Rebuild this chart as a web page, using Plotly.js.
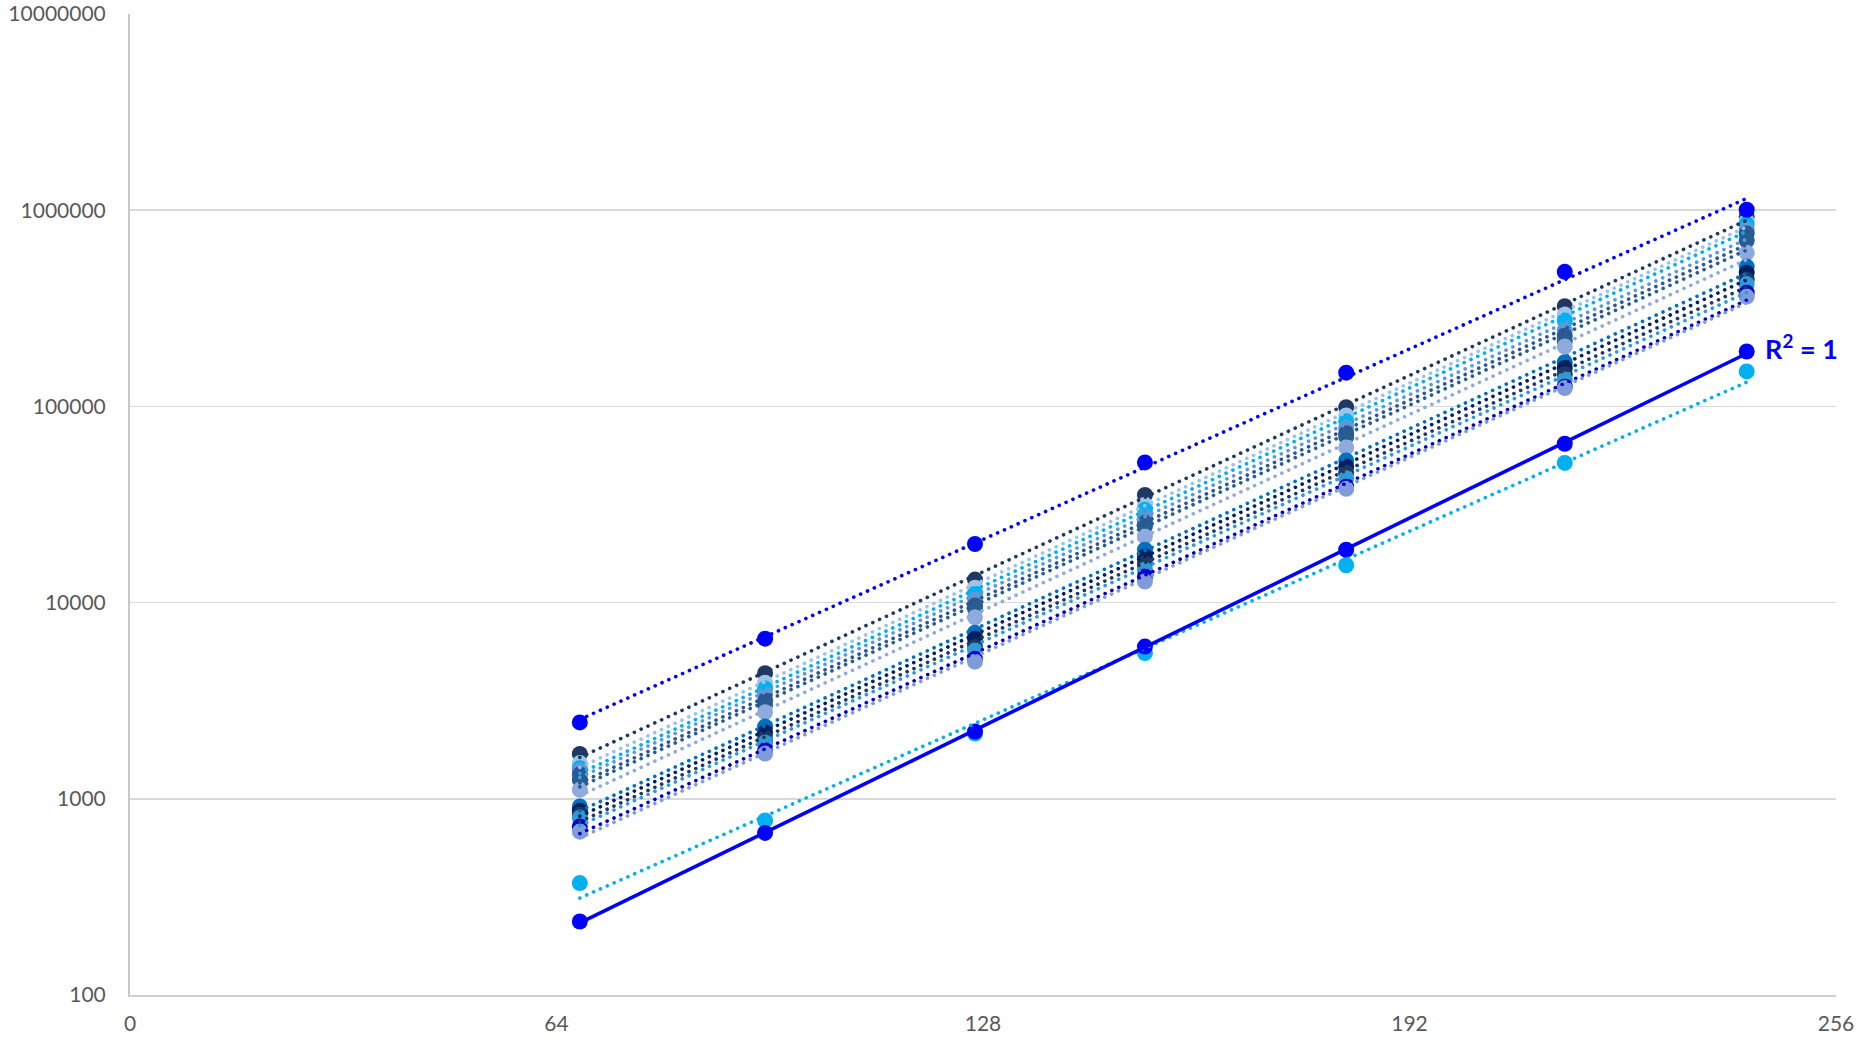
<!DOCTYPE html>
<html>
<head>
<meta charset="utf-8">
<script src="https://cdn.plot.ly/plotly-3.0.1.min.js"></script>
<style>
  html, body { margin: 0; padding: 0; background: #ffffff; }
  #chart { width: 1860px; height: 1037px; }
</style>
</head>
<body>
<div id="chart"></div>
<script>
// ---- data ----
const xValues = [67.5, 95.3, 126.8, 152.3, 182.5, 215.3, 242.6];

const yTickVals = [100, 1000, 10000, 100000, 1000000, 10000000];
const yTickText = ["100", "1000", "10000", "100000", "1000000", "10000000"];
const xTickVals = [0, 64, 128, 192, 256];
const xTickText = ["0", "64", "128", "192", "256"];

// upper cluster
const seriesU1 = [1694, 4365, 13100, 35400, 99100, 324000, 930000];
const seriesU2 = [1520, 3906, 11900, 31500, 89900, 294000, 880000];
const seriesU3 = [1433, 3645, 11100, 29700, 83900, 274000, 850000];
const seriesU4 = [1394, 3400, 10400, 27500, 78200, 245000, 800000];
const seriesU5 = [1330, 3170, 9670, 25500, 73000, 229000, 760000];
const seriesU6 = [1250, 3000, 9300, 24500, 70000, 215000, 700000];
// middle line
const seriesM = [1111, 2760, 8410, 21700, 61800, 202000, 607000];
// lower cluster
const seriesL1 = [914, 2335, 7020, 18600, 53000, 168000, 516000];
const seriesL2 = [870, 2178, 6550, 17200, 49400, 157000, 480000];
const seriesL3 = [829, 2032, 5940, 15900, 46100, 146000, 442000];
const seriesL4 = [800, 1930, 5700, 14700, 43000, 137000, 420000];
const seriesL5 = [723, 1767, 5170, 13600, 39000, 126000, 380000];
const seriesL6 = [681, 1700, 5000, 12800, 38000, 124000, 363000];
// separate series
const seriesTop = [2450, 6550, 19900, 51800, 148600, 485000, 1005000];
const seriesBottomCyan = [372, 776, 2150, 5530, 15500, 51500, 150700];
const seriesSolid = [237, 670, 2200, 5970, 18600, 64500, 190500];

const r2Label = "R<sup>2</sup> = 1";

// ---- styles ----
const seriesList = [
  { y: seriesU1, color: "#203864" },
  { y: seriesU2, color: "#9DC3E6" },
  { y: seriesU3, color: "#00B0F0" },
  { y: seriesU4, color: "#5B9BD5" },
  { y: seriesU5, color: "#2F5597" },
  { y: seriesU6, color: "#255E91" },
  { y: seriesM,  color: "#8FAADC" },
  { y: seriesL1, color: "#0070C0" },
  { y: seriesL2, color: "#002060" },
  { y: seriesL3, color: "#1F3864" },
  { y: seriesL4, color: "#2E9BD6" },
  { y: seriesL5, color: "#0000CC" },
  { y: seriesL6, color: "#7F9CD9" },
  { y: seriesTop, color: "#0000FF" },
  { y: seriesBottomCyan, color: "#00B0F0" },
  { y: seriesSolid, color: "#0000FF", solid: true }
];

// exponential trendline (least squares on ln y), like Excel
function expFit(xs, ys) {
  const n = xs.length;
  let sx = 0, sy = 0, sxx = 0, sxy = 0;
  for (let i = 0; i < n; i++) {
    const lx = xs[i], ly = Math.log(ys[i]);
    sx += lx; sy += ly; sxx += lx * lx; sxy += lx * ly;
  }
  const b = (n * sxy - sx * sy) / (n * sxx - sx * sx);
  const a = (sy - b * sx) / n;
  return x => Math.exp(a + b * x);
}

const traces = [];
const markerTraces = [];
seriesList.forEach(s => {
  const f = expFit(xValues, s.y);
  const xmin = Math.min(...xValues), xmax = Math.max(...xValues);
  traces.push({
    type: "scatter", mode: "lines",
    x: [xmin, xmax], y: [f(xmin), f(xmax)],
    line: { color: s.color, width: s.solid ? 3.6 : 3.6, dash: s.solid ? "solid" : "0.1px,7.4px" },
    hoverinfo: "skip", showlegend: false
  });
  markerTraces.push({
    type: "scatter", mode: "markers",
    x: xValues, y: s.y,
    marker: { color: s.color, size: 16, line: { width: 0 } },
    showlegend: false
  });
});

const data = markerTraces.concat(traces);

const solidFit = expFit(xValues, seriesSolid);
const lastX = xValues[xValues.length - 1];

const layout = {
  width: 1860, height: 1037,
  margin: { l: 130, r: 24, t: 14, b: 42 },
  paper_bgcolor: "#ffffff", plot_bgcolor: "#ffffff",
  showlegend: false,
  font: { family: "Lato, 'Open Sans', sans-serif", size: 21, color: "#595959" },
  xaxis: {
    type: "linear", range: [0, 256],
    tickvals: xTickVals, ticktext: xTickText,
    showgrid: false, zeroline: false,
    showline: true, linecolor: "#D0D0D0", linewidth: 2,
    ticks: "", ticklabelstandoff: 9,
    tickfont: { family: "Lato, sans-serif", size: 21, color: "#595959" }
  },
  yaxis: {
    type: "log", range: [2, 7],
    tickvals: yTickVals, ticktext: yTickText,
    showgrid: true, gridcolor: "#D9D9D9", gridwidth: 1.5,
    zeroline: false,
    showline: true, linecolor: "#C8C8C8", linewidth: 2,
    ticks: "", ticklabelstandoff: 18,
    tickfont: { family: "Lato, sans-serif", size: 21, color: "#595959" }
  },
  annotations: [{
    x: lastX, y: Math.log10(solidFit(lastX)), xref: "x", yref: "y",
    text: "<b>" + r2Label + "</b>", showarrow: false,
    xanchor: "left", yanchor: "middle", xshift: 16, yshift: 7,
    font: { family: "Lato, sans-serif", size: 27, color: "#0000FF" }
  }]
};

Plotly.newPlot("chart", data, layout, { staticPlot: true, displayModeBar: false }).then(() => {
  document.querySelectorAll(".scatterlayer path.js-line").forEach(p => {
    p.style.strokeLinecap = "round";
  });
});
</script>
</body>
</html>
